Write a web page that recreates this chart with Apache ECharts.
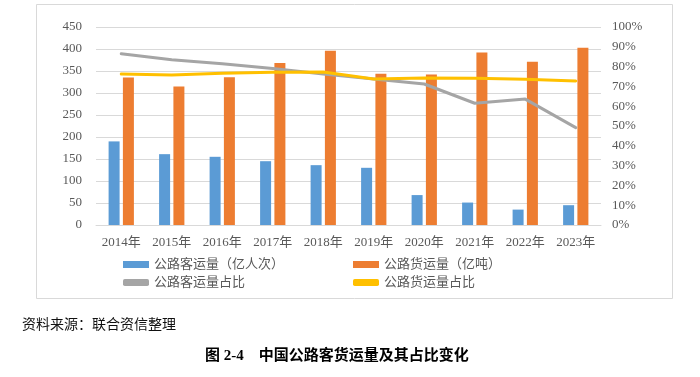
<!DOCTYPE html>
<html>
<head>
<meta charset="utf-8">
<script src="https://cdn.jsdelivr.net/npm/echarts@6/dist/echarts.min.js"></script>
<style>
  html, body { margin: 0; padding: 0; background: #fff; }
  #chart { width: 700px; height: 377px; }
</style>
</head>
<body>
<div id="chart"></div>
<script>
// data
const years = ['2014年', '2015年', '2016年', '2017年', '2018年', '2019年', '2020年', '2021年', '2022年', '2023年']
const passengerVolume = [190, 161, 155, 145, 136, 130, 68, 51, 35, 45]      // 亿人次
const freightVolume = [335, 315, 336, 368, 396, 344, 342, 392, 371, 403]    // 亿吨
const passengerShare = [86.5, 83.5, 81.5, 79.0, 76.3, 73.7, 71.2, 61.5, 63.6, 49.2] // %
const freightShare = [76.3, 75.8, 76.6, 77.2, 77.3, 73.7, 74.2, 74.1, 73.6, 72.7]   // %

const seriesNames = ['公路客运量（亿人次）', '公路货运量（亿吨）', '公路客运量占比', '公路货运量占比']

const textColor = '#595959'
const serif = "'Liberation Serif', 'Noto Sans CJK SC', serif"

const chart = echarts.init(document.getElementById('chart'), null, { renderer: 'canvas' })

const legendText = { color: textColor, fontSize: 13, fontFamily: serif }

chart.setOption({
  animation: false,
  backgroundColor: '#fff',
  grid: { left: 96, right: 99, top: 27, bottom: 152, containLabel: false },
  xAxis: {
    type: 'category',
    data: years,
    axisLine: { show: true, lineStyle: { color: '#d9d9d9' } },
    axisTick: { show: false },
    axisLabel: { color: textColor, fontFamily: serif, fontSize: 13, margin: 11, interval: 0 }
  },
  yAxis: [
    {
      type: 'value', min: 0, max: 450, interval: 50,
      axisLine: { show: false }, axisTick: { show: false },
      axisLabel: { color: textColor, fontFamily: serif, fontSize: 13, margin: 14 },
      splitLine: { lineStyle: { color: '#d9d9d9', width: 1 } }
    },
    {
      type: 'value', min: 0, max: 100, interval: 10,
      axisLine: { show: false }, axisTick: { show: false },
      axisLabel: { color: textColor, fontFamily: serif, fontSize: 13, margin: 11, formatter: '{value}%' },
      splitLine: { show: false }
    }
  ],
  legend: [
    {
      left: 118, top: 253, orient: 'vertical', itemGap: 5,
      itemWidth: 26, itemHeight: 7,
      textStyle: legendText,
      data: [
        { name: seriesNames[0], icon: 'rect' },
        { name: seriesNames[2], icon: 'roundRect' }
      ]
    },
    {
      left: 348, top: 253, orient: 'vertical', itemGap: 5,
      itemWidth: 26, itemHeight: 7,
      textStyle: legendText,
      data: [
        { name: seriesNames[1], icon: 'rect' },
        { name: seriesNames[3], icon: 'roundRect' }
      ]
    }
  ],
  series: [
    {
      name: seriesNames[0], type: 'bar', data: passengerVolume,
      barWidth: 11, barGap: '30%',
      itemStyle: { color: '#5b9bd5' }
    },
    {
      name: seriesNames[1], type: 'bar', data: freightVolume,
      barWidth: 11,
      itemStyle: { color: '#ed7d31' }
    },
    {
      name: seriesNames[2], type: 'line', yAxisIndex: 1, data: passengerShare,
      symbol: 'none', lineStyle: { color: '#a5a5a5', width: 3, cap: 'round', join: 'round' },
      itemStyle: { color: '#a5a5a5' }, z: 3
    },
    {
      name: seriesNames[3], type: 'line', yAxisIndex: 1, data: freightShare,
      symbol: 'none', lineStyle: { color: '#ffc000', width: 3, cap: 'round', join: 'round' },
      itemStyle: { color: '#ffc000' }, z: 4
    }
  ],
  graphic: [
    {
      type: 'rect', silent: true, z: -1,
      shape: { x: 36.5, y: 4.5, width: 636, height: 294 },
      style: { fill: 'none', stroke: '#d9d9d9', lineWidth: 1 }
    },
    {
      type: 'text', left: 22, top: 317,
      style: { text: '资料来源：联合资信整理', fill: '#111', font: "14px 'Noto Sans CJK SC', serif" }
    },
    {
      type: 'text', left: 205, top: 349,
      style: { text: '图 2-4    中国公路客货运量及其占比变化', fill: '#000', font: "bold 15px 'Liberation Serif', 'Noto Sans CJK SC', serif" }
    }
  ]
})
</script>
</body>
</html>
